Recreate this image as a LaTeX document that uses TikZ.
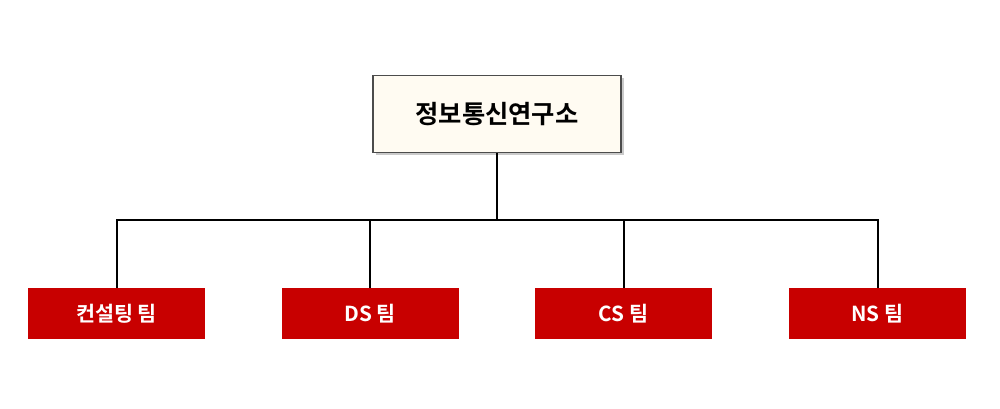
\documentclass[tikz,border=0pt]{standalone}
\usepackage{fontspec}
\newfontfamily\kr{Noto Sans CJK KR}[BoldFont={Noto Sans CJK KR Bold}]
\usetikzlibrary{shadows}
\definecolor{teamred}{HTML}{C80000}
\definecolor{cream}{HTML}{FFFBF2}
\tikzset{
  topbox/.style={draw=black!70, line width=0.8pt, fill=cream, minimum width=186pt, minimum height=57.75pt, inner sep=0pt,
    font=\kr\bfseries\fontsize{19}{22}\selectfont, drop shadow={shadow xshift=2pt, shadow yshift=-2pt, fill=black!35, opacity=0.6}},
  teambox/.style={fill=teamred, text=white, minimum width=132.75pt, minimum height=38.25pt, inner sep=0pt,
    font=\kr\bfseries\fontsize{15.5}{18}\selectfont},
  conn/.style={line width=1.5pt, black}
}
\begin{document}
\begin{tikzpicture}[x=0.75pt,y=-0.75pt]
\useasboundingbox (0,0) rectangle (1000,408);
\node[topbox] (top) at (497,114) {정보통신연구소};
\node[teambox] (t1) at (116.5,313.5) {컨설팅 팀};
\node[teambox] (t2) at (370,313.5) {DS 팀};
\node[teambox] (t3) at (623.5,313.5) {CS 팀};
\node[teambox] (t4) at (877.5,313.5) {NS 팀};
\coordinate (bus) at (497,220);
\draw[conn] (top.south) -- (bus);
\draw[conn] (t1.north) |- (bus) -| (t4.north);
\draw[conn] (t2.north) -- (t2.north |- bus);
\draw[conn] (t3.north) -- (t3.north |- bus);
\end{tikzpicture}
\end{document}
